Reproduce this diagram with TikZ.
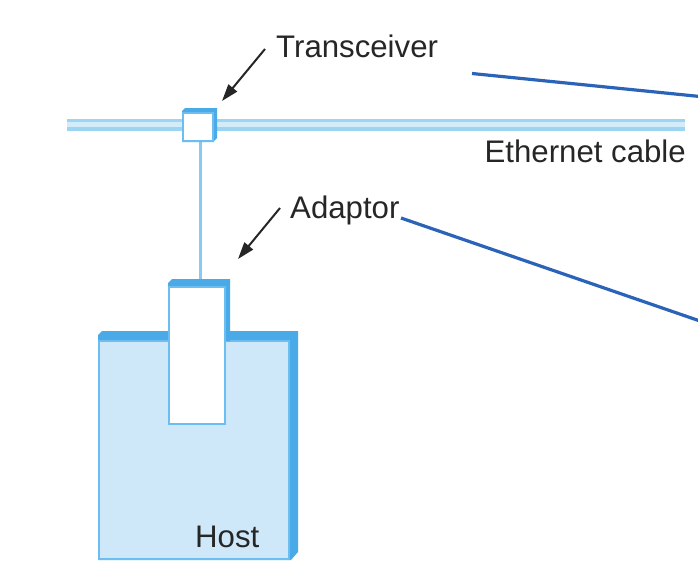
\documentclass[tikz,border=0pt]{standalone}
\usepackage{fontspec}
\setmainfont{Liberation Sans}
\usetikzlibrary{arrows.meta}
\definecolor{txt}{HTML}{262626}
\definecolor{bandblue}{HTML}{4AA9E7}
\definecolor{edgeblue}{HTML}{6CBDF0}
\definecolor{hostfill}{HTML}{CFE8F9}
\definecolor{cableout}{HTML}{9DD4F2}
\definecolor{cablein}{HTML}{D3ECFA}
\definecolor{stemblue}{HTML}{86CCF2}
\definecolor{callout}{HTML}{2B63B9}
\tikzset{
  lbl/.style={text=txt, font=\fontsize{31.2}{36}\selectfont, inner sep=0pt},
  pointer/.style={draw=txt, line width=2pt, -{Triangle[length=17pt,width=11pt]}},
  face/.style={draw=edgeblue, line width=2pt},
  band/.style={fill=bandblue},
  calloutline/.style={draw=callout, line width=3.2pt},
}
\begin{document}
\begin{tikzpicture}[x=1pt,y=-1pt]
\useasboundingbox (0,0) rectangle (698,582);
% cable
\coordinate (cableL) at (67,124.5);
\coordinate (cableR) at (685,124.5);
\draw[cableout, line width=12pt] (cableL) -- (cableR);
\draw[cablein, line width=4.5pt] (cableL) -- (cableR);
% stem
\coordinate (trxB) at (200,141);
\coordinate (adT) at (200,280);
\draw[stemblue, line width=3pt] (trxB) -- (adT);
% host
\path[band] (98,341) -- (98,335) -- (102,331) -- (298,331) -- (298,552) -- (291,560) -- (98,560) -- cycle;
\path[face, fill=hostfill] (99,341) rectangle (289,559);
% adaptor
\path[band] (168,287) -- (168,283) -- (172,279) -- (230,279) -- (230,341) -- (168,341) -- cycle;
\path[face, fill=white] (169,286.5) rectangle (224.5,423.5);
% transceiver
\path[band] (182,113) -- (182,111) -- (185,108) -- (217,108) -- (217,138) -- (213,142) -- (182,142) -- cycle;
\path[face, fill=white] (183,112.5) rectangle (212.5,141);
\coordinate (trx) at (222,101);
\coordinate (ad) at (238,259);
% labels
\node[lbl, anchor=base west] (ltrx) at (276,57) {Transceiver};
\node[lbl, anchor=base east] (lcab) at (686,162) {Ethernet cable};
\node[lbl, anchor=base west] (lad) at (290,218) {Adaptor};
\node[lbl, anchor=base west] (lhost) at (195,547) {Host};
% pointers
\coordinate (trxTail) at (265,49);
\coordinate (adTail) at (280,208);
\draw[pointer] (trxTail) -- (trx);
\draw[pointer] (adTail) -- (ad);
% callout lines
\coordinate (c1a) at (472,73.5);
\coordinate (c1b) at (700,96.5);
\coordinate (c2a) at (401,218);
\coordinate (c2b) at (700,321);
\draw[calloutline] (c1a) -- (c1b);
\draw[calloutline] (c2a) -- (c2b);
\end{tikzpicture}
\end{document}
